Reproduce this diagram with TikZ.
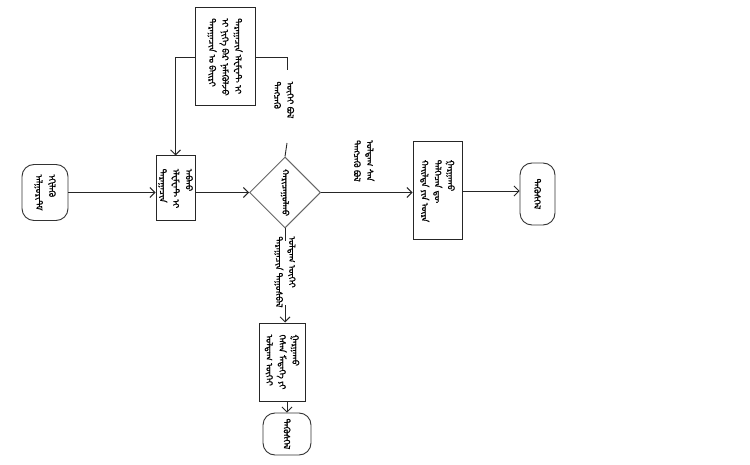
\documentclass[tikz,border=0pt]{standalone}
\usepackage{fontspec}
\newfontfamily\mngfont[Script=Mongolian,FakeBold=1.2]{Noto Sans Mongolian}
\usetikzlibrary{shapes.geometric,arrows.meta}

\begin{document}
\begin{tikzpicture}[x=1pt,y=-1pt,
	mtxt/.style={rotate=-90,font=\mngfont\fontsize{9}{13}\selectfont,align=left,inner sep=0pt},
	box/.style={draw=black!85,line width=1pt,inner sep=0pt},
	term/.style={draw=black!80,line width=0.9pt,rounded corners=12pt,inner sep=0pt},
	cond/.style={diamond,draw=black!60,line width=1pt,inner sep=0pt,minimum width=71pt,minimum height=71pt},
	flow/.style={draw=black!85,line width=0.9pt},
	arr/.style={flow,-{Straight Barb[length=5pt,width=10pt]}}]
	\useasboundingbox (0,0) rectangle (750,465);
	% shapes
	\node[term,minimum width=46pt,minimum height=56pt] (start) at (45,192.5) {};
	\node[box,minimum width=39pt,minimum height=65pt] (boxA) at (175.5,188.5) {};
	\node[box,minimum width=60pt,minimum height=98pt] (topbox) at (225,57) {};
	\node[cond] (dia) at (285,192.5) {};
	\node[box,minimum width=49pt,minimum height=98pt] (rbox) at (437.5,191) {};
	\node[term,minimum width=35pt,minimum height=62pt] (endR) at (537.5,194) {};
	\node[box,minimum width=46pt,minimum height=78pt] (bbox) at (282,362) {};
	\node[term,minimum width=48pt,minimum height=42pt] (endB) at (287,434) {};
	% texts, last column first
	\node[mtxt] (tStart) at (start) {ᠡᠬᠢᠯᠡᠬᠦ\\ᠠᠯᠭᠣᠷᠢᠲᠮ};
	\node[mtxt] (tA) at (boxA) {ᠠᠪᠬᠤ\\ᠡᠯᠧᠮᠧᠨᠲ ᠢ\\ᠳᠠᠷᠠᠭᠠᠴᠢᠨ};
	\node[mtxt] (tTop) at (topbox) {ᠳᠠᠷᠠᠭᠠᠴᠢᠨ ᠡᠯᠧᠮᠧᠨᠲ ᠢ\\ᠢ ᠨᠢᠭᠡ ᠪᠡᠷ ᠨᠡᠮᠡᠭᠦᠯᠵᠦ\\ᠳᠠᠷᠠᠭᠠᠴᠢᠨ ᠤ ᠪᠠᠢᠷᠢ};
	\node[mtxt] (tDia) at (dia) {ᠬᠠᠷᠢᠴᠠᠭᠤᠯᠬᠤ};
	\node[mtxt] (tR) at (rbox) {ᠭᠠᠷᠭᠠᠬᠤ\\ᠳᠡᠯᠭᠡᠴᠡᠨ ᠳᠦ\\ᠬᠠᠢᠯᠲᠠ ᠶᠢᠨ ᠦᠷᠡ};
	\node[mtxt] (tEndR) at (endR) {ᠲᠡᠭᠦᠰᠬᠡᠯ};
	\node[mtxt] (tB) at (bbox) {ᠭᠠᠷᠭᠠᠬᠤ\\ᠭᠡᠰᠡᠨ ᠮᠡᠳᠡᠭᠡ ᠶᠢ\\ᠣᠯᠳᠠᠭ ᠦᠭᠡᠢ};
	\node[mtxt] (tEndB) at (endB) {ᠲᠡᠭᠦᠰᠬᠡᠯ};
	% branch labels
	\node[mtxt] (lblR) at (364,161) {ᠣᠯᠳᠠᠭ ᠰᠠᠨ\\ᠲᠡᠩᠴᠡᠬᠦ ᠪᠣᠯ};
	\node[mtxt] (lblU) at (284,100) {ᠦᠭᠡᠢ ᠪᠣᠯ\\ᠲᠡᠩᠴᠡᠬᠦ};
	\node[mtxt] (lblD) at (285,272) {ᠣᠯᠳᠠᠭ ᠦᠭᠡᠢ\\ᠳᠠᠷᠠᠭᠠᠴᠢᠨ ᠳᠠᠭᠤᠰᠪᠠᠯ};
	\coordinate (up1) at (287,143);
	\coordinate (up2) at (287,70);
	\coordinate (dn1) at (285,241);
	\coordinate (dn2) at (285,305);
	% connectors
	\draw[arr] (start.east) -- (start.east -| boxA.west);
	\draw[arr] (dia.west -| boxA.east) -- (dia.west);
	\draw[arr] (dia.east) -- (dia.east -| rbox.west);
	\draw[arr] (rbox.east) -- (rbox.east -| endR.west);
	\draw[flow] (dia.south) -- (dn1);
	\draw[arr] (dn2) -- (dn2 |- bbox.north);
	\draw[arr] (bbox.south -| endB.north) -- (endB.north);
	\draw[flow] (dia.north) -- (up1);
	\draw[flow] (topbox.east) -| (up2);
	\draw[arr] (topbox.west) -| (boxA.north);
\end{tikzpicture}
\end{document}
